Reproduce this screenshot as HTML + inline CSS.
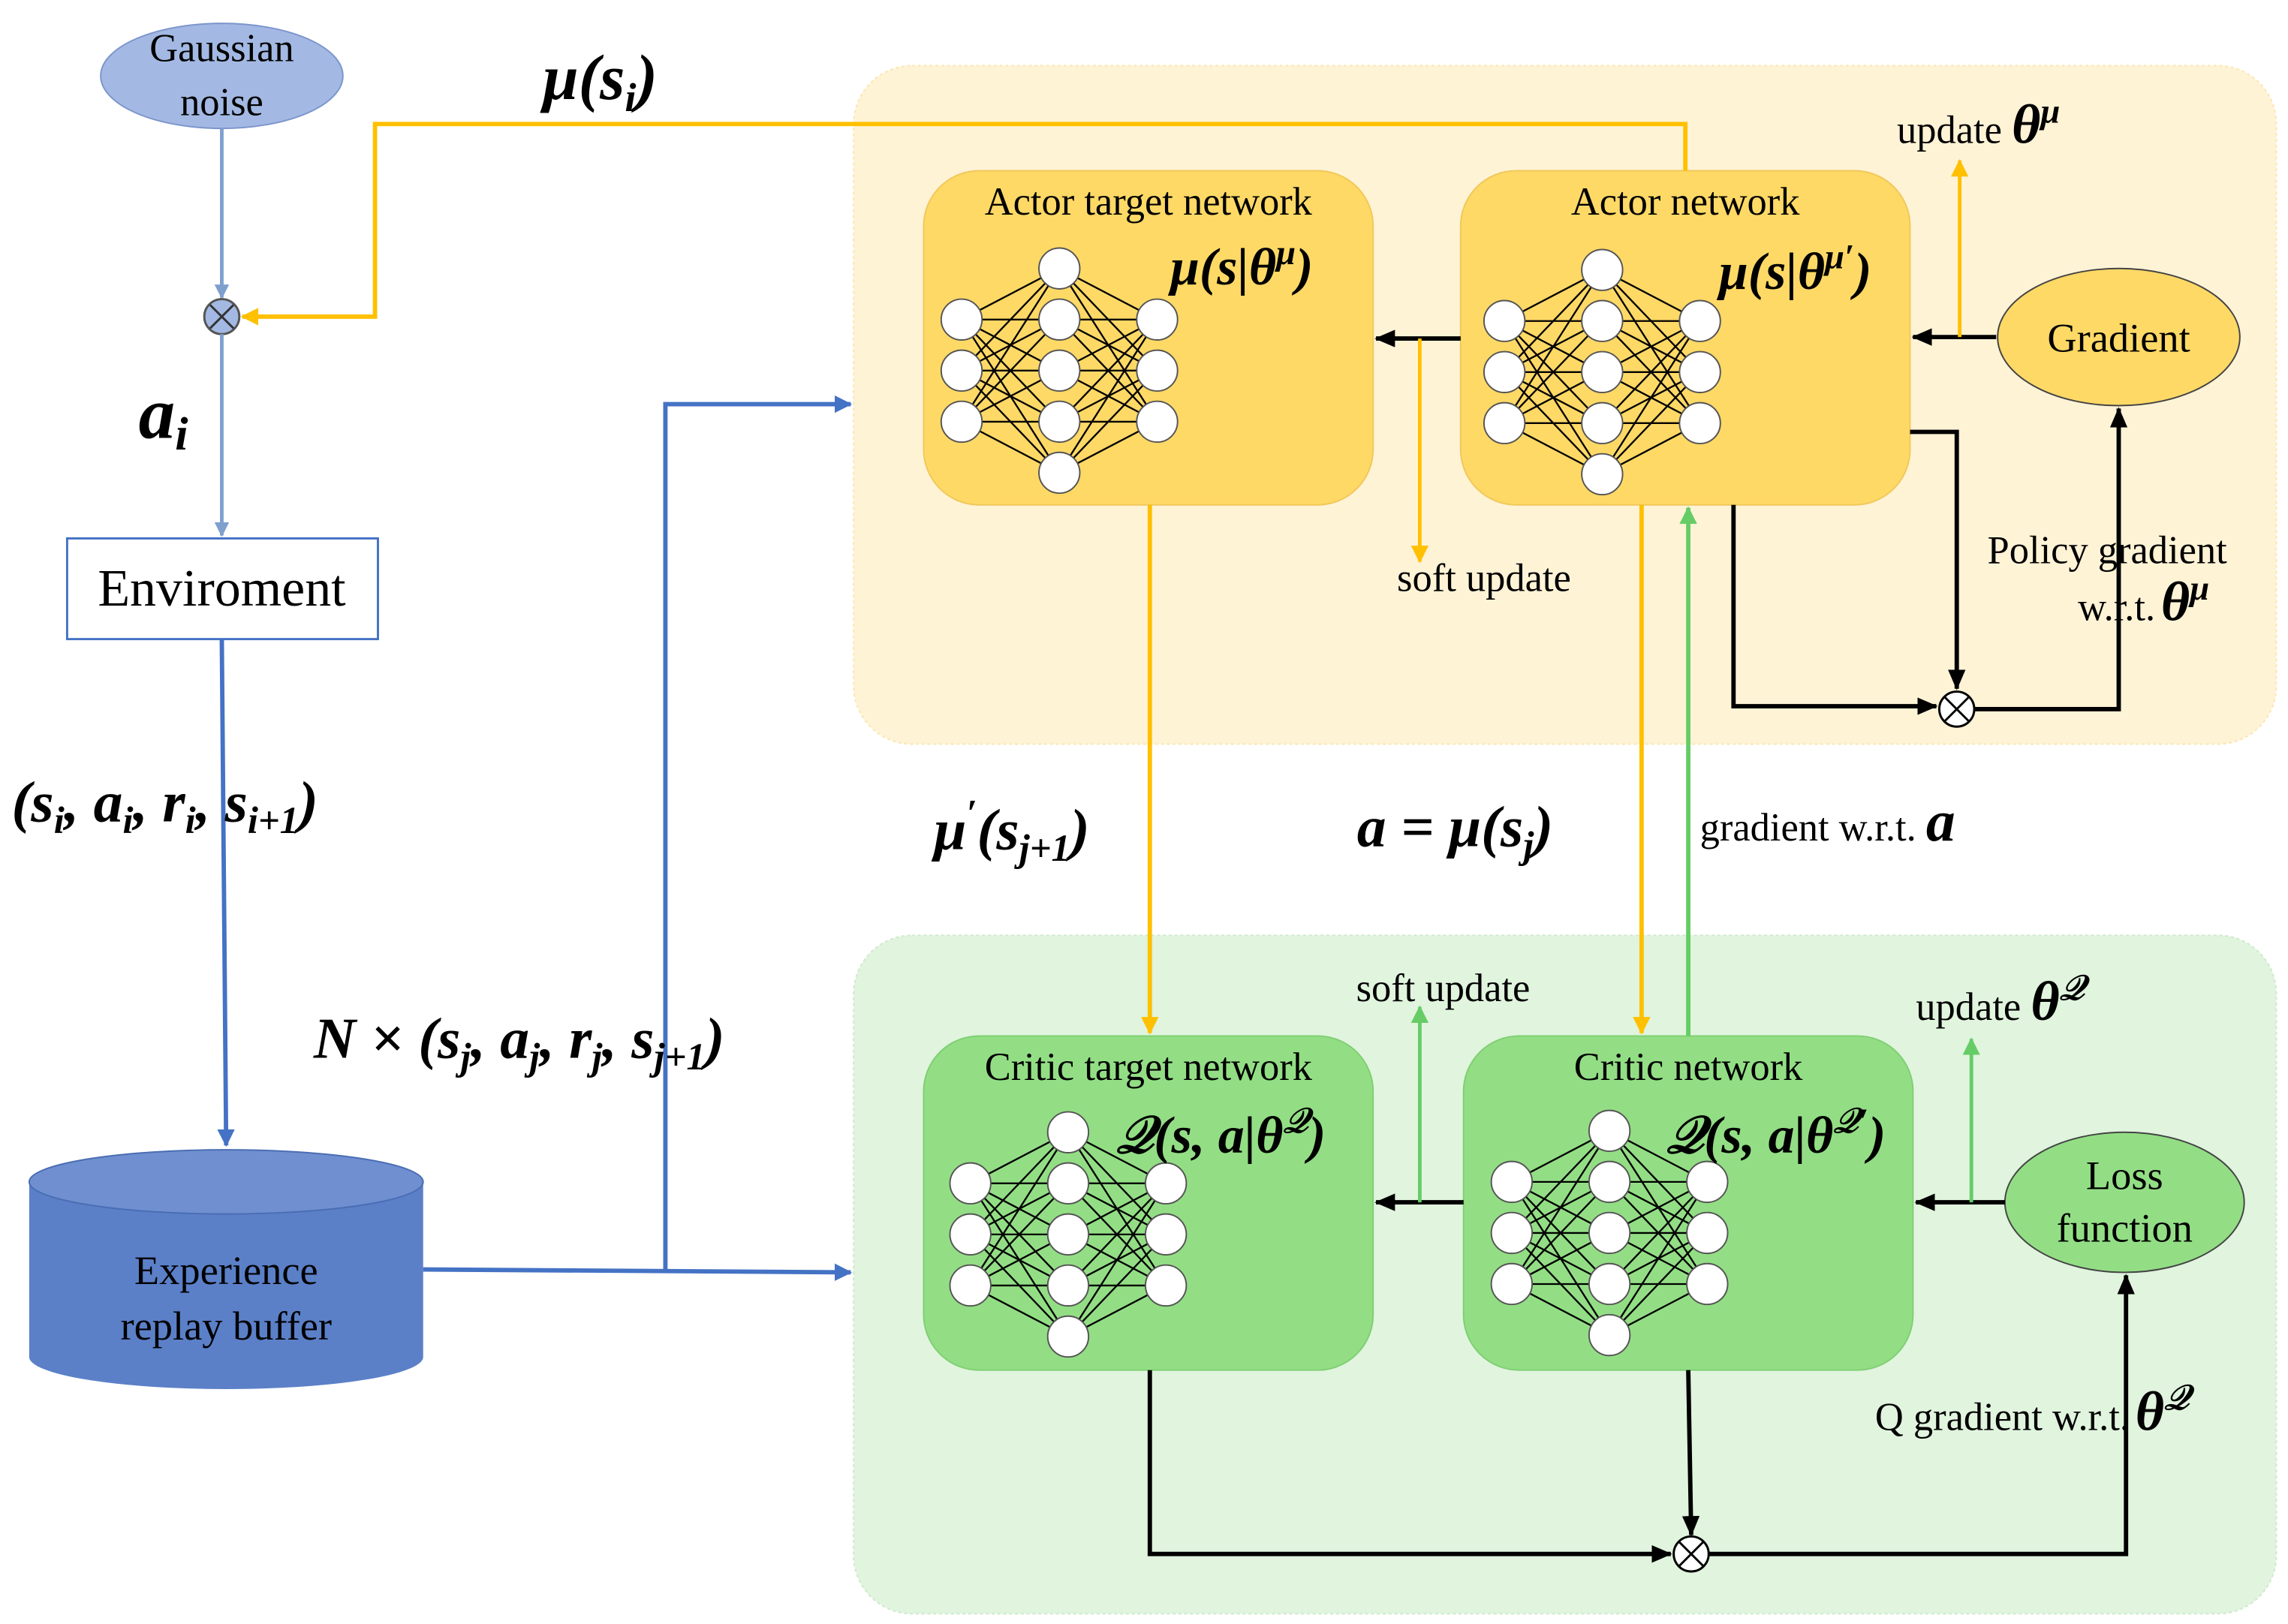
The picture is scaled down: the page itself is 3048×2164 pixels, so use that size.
<!DOCTYPE html>
<html><head><meta charset="utf-8"><style>
html,body{margin:0;padding:0;background:#fff;}
svg{display:block;}
text{font-family:"Liberation Serif",serif;fill:#000;}
.m{font-style:italic;font-weight:bold;font-family:"Liberation Serif","DejaVu Serif",serif;}
</style></head><body>
<svg width="3048" height="2164" viewBox="0 0 1568 1113" preserveAspectRatio="none" xmlns="http://www.w3.org/2000/svg">
<defs>
<marker id="abk" markerWidth="14" markerHeight="12" refX="13" refY="6" orient="auto" markerUnits="userSpaceOnUse"><path d="M0,0 L14,6 L0,12 Z" fill="#000"/></marker>
<marker id="ao" markerWidth="12" markerHeight="12" refX="11" refY="6" orient="auto" markerUnits="userSpaceOnUse"><path d="M0,0 L12,6 L0,12 Z" fill="#ffc000"/></marker>
<marker id="ag" markerWidth="12" markerHeight="12" refX="11" refY="6" orient="auto" markerUnits="userSpaceOnUse"><path d="M0,0 L12,6 L0,12 Z" fill="#66cc66"/></marker>
<marker id="abl" markerWidth="12" markerHeight="12" refX="11" refY="6" orient="auto" markerUnits="userSpaceOnUse"><path d="M0,0 L12,6 L0,12 Z" fill="#4472c4"/></marker>
<marker id="agr" markerWidth="10" markerHeight="10" refX="9" refY="5" orient="auto" markerUnits="userSpaceOnUse"><path d="M0,0 L10,5 L0,10 Z" fill="#7f9fcf"/></marker>
<g id="net">
<g stroke="#000" stroke-width="1.2">
<line x1="0" y1="35" x2="67" y2="0"/><line x1="0" y1="35" x2="67" y2="35"/><line x1="0" y1="35" x2="67" y2="70"/><line x1="0" y1="35" x2="67" y2="105"/><line x1="0" y1="35" x2="67" y2="140"/>
<line x1="0" y1="70" x2="67" y2="0"/><line x1="0" y1="70" x2="67" y2="35"/><line x1="0" y1="70" x2="67" y2="70"/><line x1="0" y1="70" x2="67" y2="105"/><line x1="0" y1="70" x2="67" y2="140"/>
<line x1="0" y1="105" x2="67" y2="0"/><line x1="0" y1="105" x2="67" y2="35"/><line x1="0" y1="105" x2="67" y2="70"/><line x1="0" y1="105" x2="67" y2="105"/><line x1="0" y1="105" x2="67" y2="140"/>
<line x1="134" y1="35" x2="67" y2="0"/><line x1="134" y1="35" x2="67" y2="35"/><line x1="134" y1="35" x2="67" y2="70"/><line x1="134" y1="35" x2="67" y2="105"/><line x1="134" y1="35" x2="67" y2="140"/>
<line x1="134" y1="70" x2="67" y2="0"/><line x1="134" y1="70" x2="67" y2="35"/><line x1="134" y1="70" x2="67" y2="70"/><line x1="134" y1="70" x2="67" y2="105"/><line x1="134" y1="70" x2="67" y2="140"/>
<line x1="134" y1="105" x2="67" y2="0"/><line x1="134" y1="105" x2="67" y2="35"/><line x1="134" y1="105" x2="67" y2="70"/><line x1="134" y1="105" x2="67" y2="105"/><line x1="134" y1="105" x2="67" y2="140"/>
</g>
<g fill="#fff" stroke="#555" stroke-width="1">
<circle cx="0" cy="35" r="14"/><circle cx="0" cy="70" r="14"/><circle cx="0" cy="105" r="14"/>
<circle cx="67" cy="0" r="14"/><circle cx="67" cy="35" r="14"/><circle cx="67" cy="70" r="14"/><circle cx="67" cy="105" r="14"/><circle cx="67" cy="140" r="14"/>
<circle cx="134" cy="35" r="14"/><circle cx="134" cy="70" r="14"/><circle cx="134" cy="105" r="14"/>
</g>
</g>
</defs>

<rect x="585" y="45" width="975" height="465" rx="40" fill="#fff3d6" stroke="#fbe6b0" stroke-dasharray="2,2"/>
<rect x="585" y="641" width="975" height="465" rx="40" fill="#e0f4de" stroke="#cfe9cb" stroke-dasharray="2,2"/>

<rect x="633" y="117" width="308" height="229" rx="38" fill="#ffd966" stroke="#f0c85a"/>
<rect x="1001" y="117" width="308" height="229" rx="38" fill="#ffd966" stroke="#f0c85a"/>
<rect x="633" y="710" width="308" height="229" rx="38" fill="#93de85" stroke="#7fcf72"/>
<rect x="1003" y="710" width="308" height="229" rx="38" fill="#93de85" stroke="#7fcf72"/>

<use href="#net" x="659" y="184"/>
<use href="#net" x="1031" y="185"/>
<use href="#net" x="665" y="776"/>
<use href="#net" x="1036" y="775"/>

<text x="787" y="147" font-size="27" text-anchor="middle">Actor target network</text>
<text x="1155" y="147" font-size="27" text-anchor="middle">Actor network</text>
<text x="787" y="740" font-size="27" text-anchor="middle">Critic target network</text>
<text x="1157" y="740" font-size="27" text-anchor="middle">Critic network</text>

<text x="802" y="195" font-size="36" class="m">μ(s|θ<tspan font-size="24" dy="-14">μ</tspan><tspan dy="14">)</tspan></text>
<text x="1178" y="198" font-size="36" class="m">μ(s|θ<tspan font-size="24" dy="-14">μ′</tspan><tspan dy="14">)</tspan></text>
<text x="765" y="790" font-size="36" class="m">𝒬(s, a|θ<tspan font-size="24" dy="-14">𝒬</tspan><tspan dy="14">)</tspan></text>
<text x="1142" y="790" font-size="36" class="m">𝒬(s, a|θ<tspan font-size="24" dy="-14">𝒬′</tspan><tspan dy="14">)</tspan></text>

<ellipse cx="152" cy="52" rx="83" ry="36" fill="#a3b9e3" stroke="#7c95cc"/>
<text x="152" y="42" font-size="27" text-anchor="middle">Gaussian</text>
<text x="152" y="79" font-size="27" text-anchor="middle">noise</text>
<line x1="152" y1="88" x2="152" y2="204" stroke="#7f9fcf" stroke-width="2.5" marker-end="url(#agr)"/>
<circle cx="152" cy="217" r="12" fill="#a3b9e3" stroke="#555" stroke-width="1.5"/>
<path d="M144,209 L160,225 M160,209 L144,225" stroke="#333" stroke-width="1.5"/>
<line x1="152" y1="229" x2="152" y2="367" stroke="#7f9fcf" stroke-width="2.5" marker-end="url(#agr)"/>
<text x="95" y="300" font-size="50" class="m">a<tspan font-size="32" dy="8">i</tspan></text>
<rect x="46" y="369" width="213" height="69" fill="#fff" stroke="#4472c4" stroke-width="1.5"/>
<text x="152" y="415" font-size="36" text-anchor="middle">Enviroment</text>
<line x1="152" y1="438" x2="155" y2="785" stroke="#4472c4" stroke-width="3" marker-end="url(#abl)"/>
<text x="8" y="563" font-size="40" class="m">(s<tspan font-size="26" dy="8">i</tspan><tspan dy="-8">, a</tspan><tspan font-size="26" dy="8">i</tspan><tspan dy="-8">, r</tspan><tspan font-size="26" dy="8">i</tspan><tspan dy="-8">, s</tspan><tspan font-size="26" dy="8">i+1</tspan><tspan dy="-8">)</tspan></text>

<path d="M20,810 L20,930 A135,22 0 0 0 290,930 L290,810 Z" fill="#5b80c8"/>
<ellipse cx="155" cy="810" rx="135" ry="22" fill="#6f8fd0" stroke="#4a6db3"/>
<text x="155" y="880" font-size="28" text-anchor="middle">Experience</text>
<text x="155" y="918" font-size="28" text-anchor="middle">replay buffer</text>

<path d="M290,870 L583,872" stroke="#4472c4" stroke-width="3" fill="none" marker-end="url(#abl)"/>
<path d="M456,870 L456,277 L583,277" stroke="#4472c4" stroke-width="3" fill="none" marker-end="url(#abl)"/>
<text x="215" y="725" font-size="40" class="m">N × (s<tspan font-size="26" dy="8">j</tspan><tspan dy="-8">, a</tspan><tspan font-size="26" dy="8">j</tspan><tspan dy="-8">, r</tspan><tspan font-size="26" dy="8">j</tspan><tspan dy="-8">, s</tspan><tspan font-size="26" dy="8">j+1</tspan><tspan dy="-8">)</tspan></text>

<path d="M1155,117 L1155,85 L257,85 L257,217 L166,217" stroke="#ffc000" stroke-width="3" fill="none" marker-end="url(#ao)"/>
<text x="372" y="68" font-size="44" class="m">μ(s<tspan font-size="28" dy="8">i</tspan><tspan dy="-8">)</tspan></text>

<line x1="1001" y1="232" x2="943" y2="232" stroke="#000" stroke-width="3" marker-end="url(#abk)"/>
<path d="M973,232 L973,385" stroke="#ffc000" stroke-width="2.5" fill="none" marker-end="url(#ao)"/>
<text x="1017" y="405" font-size="27" text-anchor="middle">soft update</text>
<ellipse cx="1452" cy="231" rx="83" ry="47" fill="#ffd966" stroke="#444"/>
<text x="1452" y="241" font-size="28" text-anchor="middle">Gradient</text>
<line x1="1368" y1="231" x2="1311" y2="231" stroke="#000" stroke-width="3" marker-end="url(#abk)"/>
<line x1="1343" y1="231" x2="1343" y2="110" stroke="#ffc000" stroke-width="2.5" marker-end="url(#ao)"/>
<text x="1300" y="98" font-size="27">update <tspan class="m" font-size="38">θ</tspan><tspan class="m" font-size="24" dy="-14">μ</tspan></text>
<path d="M1309,296 L1341,296 L1341,472" stroke="#000" stroke-width="3" fill="none" marker-end="url(#abk)"/>
<path d="M1188,346 L1188,484 L1327,484" stroke="#000" stroke-width="3" fill="none" marker-end="url(#abk)"/>
<circle cx="1341" cy="486" r="12" fill="#fff" stroke="#000" stroke-width="1.5"/>
<path d="M1333,478 L1349,494 M1349,478 L1333,494" stroke="#000" stroke-width="1.5"/>
<path d="M1353,486 L1452,486 L1452,280" stroke="#000" stroke-width="3" fill="none" marker-end="url(#abk)"/>
<text x="1362" y="386" font-size="27">Policy gradient</text>
<text x="1424" y="425" font-size="27">w.r.t.<tspan class="m" font-size="38" dx="4">θ</tspan><tspan class="m" font-size="24" dy="-14">μ</tspan></text>

<line x1="788" y1="346" x2="788" y2="708" stroke="#ffc000" stroke-width="3" marker-end="url(#ao)"/>
<line x1="1125" y1="346" x2="1125" y2="708" stroke="#ffc000" stroke-width="3" marker-end="url(#ao)"/>
<line x1="1157" y1="710" x2="1157" y2="348" stroke="#66cc66" stroke-width="3" marker-end="url(#ag)"/>
<text x="640" y="582" font-size="40" class="m">μ<tspan font-size="26" dy="-16">′</tspan><tspan dy="16">(s</tspan><tspan font-size="26" dy="8">j+1</tspan><tspan dy="-8">)</tspan></text>
<text x="930" y="580" font-size="40" class="m">a = μ(s<tspan font-size="26" dy="8">j</tspan><tspan dy="-8">)</tspan></text>
<text x="1165" y="576" font-size="27">gradient w.r.t. <tspan class="m" font-size="40">a</tspan></text>

<line x1="1003" y1="824" x2="943" y2="824" stroke="#000" stroke-width="3" marker-end="url(#abk)"/>
<line x1="973" y1="824" x2="973" y2="690" stroke="#66cc66" stroke-width="2.5" marker-end="url(#ag)"/>
<text x="989" y="686" font-size="27" text-anchor="middle">soft update</text>
<ellipse cx="1456" cy="824" rx="82" ry="48" fill="#93de85" stroke="#444"/>
<text x="1456" y="815" font-size="28" text-anchor="middle">Loss</text>
<text x="1456" y="851" font-size="28" text-anchor="middle">function</text>
<line x1="1374" y1="824" x2="1313" y2="824" stroke="#000" stroke-width="3" marker-end="url(#abk)"/>
<line x1="1351" y1="824" x2="1351" y2="712" stroke="#66cc66" stroke-width="2.5" marker-end="url(#ag)"/>
<text x="1313" y="699" font-size="27">update <tspan class="m" font-size="38">θ</tspan><tspan class="m" font-size="24" dy="-14">𝒬</tspan></text>
<path d="M788,939 L788,1065 L1145,1065" stroke="#000" stroke-width="3" fill="none" marker-end="url(#abk)"/>
<line x1="1157" y1="939" x2="1159" y2="1052" stroke="#000" stroke-width="3" marker-end="url(#abk)"/>
<circle cx="1159" cy="1065" r="12" fill="#fff" stroke="#000" stroke-width="1.5"/>
<path d="M1151,1057 L1167,1073 M1167,1057 L1151,1073" stroke="#000" stroke-width="1.5"/>
<path d="M1171,1065 L1457,1065 L1457,874" stroke="#000" stroke-width="3" fill="none" marker-end="url(#abk)"/>
<text x="1285" y="980" font-size="27">Q gradient w.r.t.<tspan class="m" font-size="38" dx="4">θ</tspan><tspan class="m" font-size="24" dy="-14">𝒬</tspan></text>
</svg>
</body></html>
